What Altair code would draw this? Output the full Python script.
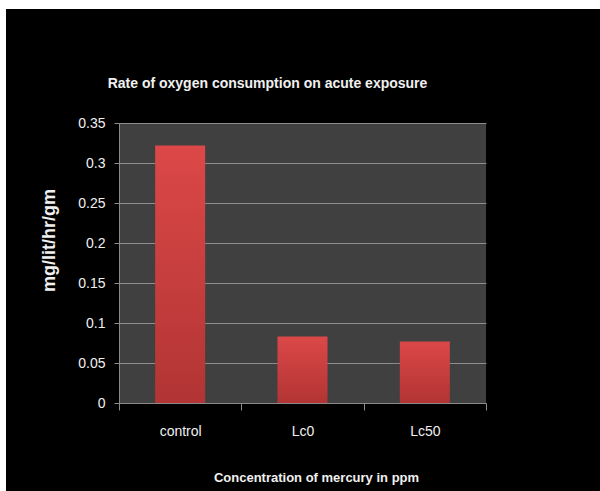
import altair as alt
import pandas as pd

categories = ["control", "Lc0", "Lc50"]
values = [0.322, 0.083, 0.077]
y_ticks = [0, 0.05, 0.1, 0.15, 0.2, 0.25, 0.3, 0.35]

df = pd.DataFrame({"group": categories, "rate": values})
FONT = "Liberation Sans, Arial, sans-serif"

bars = alt.Chart(df).mark_bar(
    size=50,
    color=alt.Gradient(
        gradient="linear",
        stops=[alt.GradientStop(color="#dc4848", offset=0),
               alt.GradientStop(color="#b23434", offset=1)],
        x1=0, x2=0, y1=0, y2=1,
    ),
).encode(
    x=alt.X("group:N", sort=categories,
            scale=alt.Scale(paddingInner=0, paddingOuter=0),
            axis=alt.Axis(title="Concentration of mercury in ppm", labelAngle=0,
                          tickBand="extent", tickSize=7, tickColor="#8a8a8a",
                          domainColor="#8a8a8a", labelPadding=14,
                          labelFont=FONT, labelFontSize=14, labelColor="#f0f0f0",
                          titleFont=FONT, titleFontSize=13, titleFontWeight="bold",
                          titleColor="#f0f0f0", titleX=197, titleY=74,
                          titleBaseline="middle", titleAlign="center")),
    y=alt.Y("rate:Q", scale=alt.Scale(domain=[0, 0.35], nice=False),
            axis=alt.Axis(title="mg/lit/hr/gm", values=y_ticks, format=".2~f",
                          tickSize=5, tickColor="#8a8a8a", domainColor="#8a8a8a",
                          gridColor="#8c8c8c", labelPadding=9,
                          labelFont=FONT, labelFontSize=14, labelColor="#f0f0f0",
                          titleFont=FONT, titleFontSize=18, titleFontWeight="bold",
                          titleColor="#f0f0f0", titleX=-70, titleY=117,
                          titleBaseline="middle", titleAlign="center", titleAngle=270)),
)

frame = pd.DataFrame({"k": [0]})
top_strip = alt.Chart(frame).mark_rect(color="white").encode(
    x=alt.value(-119), x2=alt.value(481), y=alt.value(-123), y2=alt.value(-114))
left_strip = alt.Chart(frame).mark_rect(color="white").encode(
    x=alt.value(-119), x2=alt.value(-113), y=alt.value(-123), y2=alt.value(368))

chart = alt.layer(top_strip, left_strip, bars).properties(
    width=367, height=280,
    padding={"left": 119, "top": 123, "right": 114, "bottom": 88},
    autosize=alt.AutoSizeParams(type="none"),
    background="#000000",
    title=alt.TitleParams("Rate of oxygen consumption on acute exposure",
                          font=FONT, fontSize=14, fontWeight="bold",
                          color="#f0f0f0", anchor="middle", dx=-35,
                          baseline="middle", offset=0, dy=98),
).configure_view(fill="#404040", stroke=None)

chart.save("out.html", embed_options={"renderer": "svg", "actions": False})
